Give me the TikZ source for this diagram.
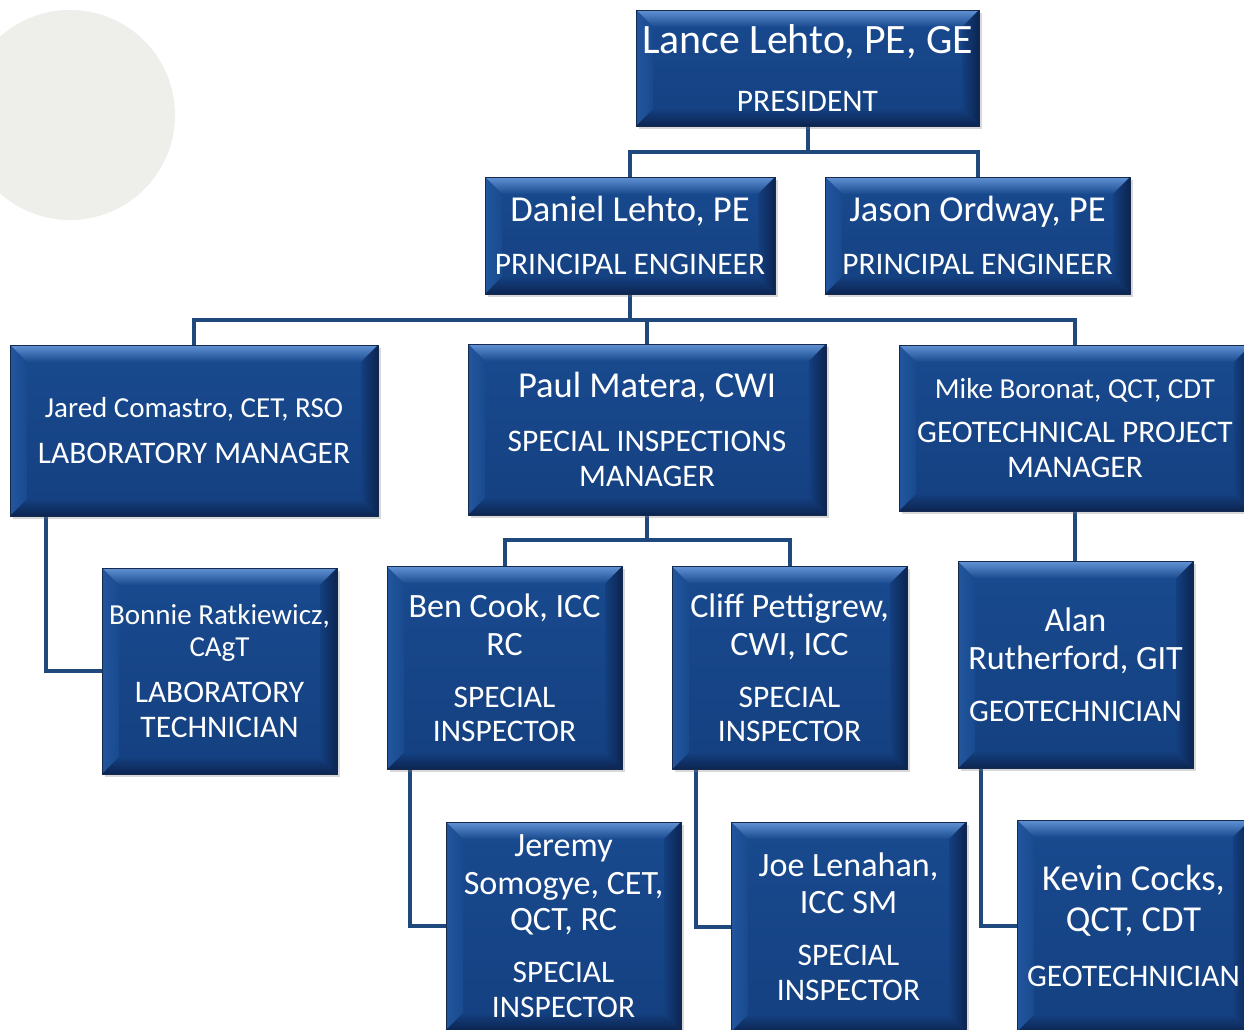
\documentclass[tikz,border=0pt]{standalone}
\usepackage{fontspec}
\setmainfont{Carlito}
\usetikzlibrary{shadows,backgrounds}

\definecolor{faceblue}{RGB}{25,74,143}
\definecolor{facedark}{RGB}{20,64,128}
\definecolor{bevlight}{RGB}{96,146,212}
\definecolor{bevleft}{RGB}{34,86,158}
\definecolor{bevright}{RGB}{12,36,80}
\definecolor{bevbottom}{RGB}{12,36,80}
\definecolor{edgeblue}{RGB}{22,42,80}
\definecolor{linkblue}{RGB}{31,73,125}
\definecolor{discgray}{RGB}{238,238,234}

\newcommand\fontPres{\fontsize{23.8}{26}\selectfont}
\newcommand\fontNameA{\fontsize{20.8}{23}\selectfont}
\newcommand\fontNameB{\fontsize{19.4}{21.5}\selectfont}
\newcommand\fontNameC{\fontsize{16.5}{18}\selectfont}
\newcommand\fontTitle{\fontsize{17.9}{19.8}\selectfont}
\def\bev{0.34cm}

\tikzset{
  orgbox/.style 2 args={
    minimum width=#1*0.02cm, minimum height=#2*0.02cm,
    inner sep=0pt, align=center, text=white, font=\fontTitle,
    top color=faceblue, bottom color=facedark,
    draw=edgeblue, line width=0.5pt,
    drop shadow={shadow xshift=1.5pt, shadow yshift=-1.5pt, opacity=0.3},
    path picture={
      \path (path picture bounding box.north west) coordinate (bnw)
            (path picture bounding box.north east) coordinate (bne)
            (path picture bounding box.south west) coordinate (bsw)
            (path picture bounding box.south east) coordinate (bse);
      % bevel edges
      \shade[top color=bevlight, bottom color=faceblue]
        (bnw) -- (bne) -- ([xshift=-\bev,yshift=-\bev]bne) -- ([xshift=\bev,yshift=-\bev]bnw) -- cycle;
      \shade[left color=bevleft, right color=faceblue]
        (bnw) -- ([xshift=\bev,yshift=-\bev]bnw) -- ([xshift=\bev,yshift=\bev]bsw) -- (bsw) -- cycle;
      \shade[left color=facedark, right color=bevright]
        (bne) -- ([xshift=-\bev,yshift=-\bev]bne) -- ([xshift=-\bev,yshift=\bev]bse) -- (bse) -- cycle;
      \shade[top color=facedark, bottom color=bevbottom]
        (bsw) -- (bse) -- ([xshift=-\bev,yshift=\bev]bse) -- ([xshift=\bev,yshift=\bev]bsw) -- cycle;
    }
  },
  link/.style={draw=linkblue, line width=0.08cm}
}

\begin{document}
\begin{tikzpicture}[x=0.02cm,y=-0.02cm]
\useasboundingbox (0,0) rectangle (1244,1029);
\clip (0,0) rectangle (1244,1029);
% faint disc in the corner
\begin{scope}[on background layer]
  \fill[white] (0,0) rectangle (1244,1029);
  \fill[discgray] (70,115) circle (105);
\end{scope}

% top levels
\node[orgbox={343}{116}] (lance) at (807.5,68)
  {{\fontPres Lance Lehto, PE, GE}\\[13pt] PRESIDENT};
\node[orgbox={290}{117}] (daniel) at (630,235.5)
  {{\fontNameA Daniel Lehto, PE}\\[10.8pt] PRINCIPAL ENGINEER};
\node[orgbox={305}{117}] (jason) at (977.5,235.5)
  {{\fontNameA Jason Ordway, PE}\\[10.8pt] PRINCIPAL ENGINEER};

% managers
\node[orgbox={368}{171}] (jared) at (194,430.5)
  {{\fontNameC Jared Comastro, CET, RSO}\\[6.3pt] LABORATORY MANAGER};
\node[orgbox={358}{171}] (paul) at (647,429.5)
  {{\fontNameA Paul Matera, CWI}\\[10.8pt] SPECIAL INSPECTIONS\\ MANAGER};
\node[orgbox={352}{166}] (mike) at (1075,428)
  {{\fontNameC Mike Boronat, QCT, CDT}\\[5.7pt] GEOTECHNICAL PROJECT\\ MANAGER};

% staff
\node[orgbox={235}{206}] (bonnie) at (219.5,671)
  {{\fontNameC Bonnie Ratkiewicz,}\\[-1.7pt]{\fontNameC CAgT}\\[6.3pt] LABORATORY\\ TECHNICIAN};
\node[orgbox={235}{203}] (ben) at (504.5,668)
  {{\fontNameB Ben Cook, ICC}\\[1.7pt]{\fontNameB RC}\\[9.7pt] SPECIAL\\ INSPECTOR};
\node[orgbox={235}{203}] (cliff) at (789.5,668)
  {{\fontNameB Cliff Pettigrew,}\\[1.7pt]{\fontNameB CWI, ICC}\\[9.7pt] SPECIAL\\ INSPECTOR};
\node[orgbox={235}{207}] (alan) at (1075.5,665)
  {{\fontNameB Alan}\\[1.7pt]{\fontNameB Rutherford, GIT}\\[9.7pt] GEOTECHNICIAN};
\node[orgbox={235}{208}] (jeremy) at (563.5,926)
  {{\fontNameB Jeremy}\\[2.2pt]{\fontNameB Somogye, CET,}\\[0.6pt]{\fontNameB QCT, RC}\\[9.7pt] SPECIAL\\ INSPECTOR};
\node[orgbox={235}{210}] (joe) at (848.5,927)
  {{\fontNameB Joe Lenahan,}\\[1.2pt]{\fontNameB ICC SM}\\[9.7pt] SPECIAL\\ INSPECTOR};
\node[orgbox={233}{212}] (kevin) at (1133.5,926)
  {{\fontNameA Kevin Cocks,}\\[3.4pt]{\fontNameA QCT, CDT}\\[11.4pt] GEOTECHNICIAN};

% connectors
\begin{scope}[on background layer]
  \draw[link] (lance.south) -- ++(0,26) coordinate (pres-bus);
  \draw[link] (daniel.north) |- (pres-bus) -| (jason.north);
  \draw[link] (daniel.south) -- ++(0,26) coordinate (eng-bus);
  \draw[link] (jared.north) |- (eng-bus) -| (mike.north);
  \draw[link] (eng-bus -| paul.north) -- (paul.north);
  \draw[link] (paul.south) -- ++(0,25) coordinate (si-bus);
  \draw[link] (ben.north) |- (si-bus) -| (cliff.north);
  \draw[link] (mike.south) -- (mike.south |- alan.north);
  \draw[link] (jared.south west) ++(36,0) |- (bonnie.west);
  \draw[link] (ben.south west) ++(23,0) |- (jeremy.west);
  \draw[link] (cliff.south west) ++(24,0) |- (joe.west);
  \draw[link] (alan.south west) ++(23,0) |- (kevin.west);
\end{scope}
\end{tikzpicture}
\end{document}
